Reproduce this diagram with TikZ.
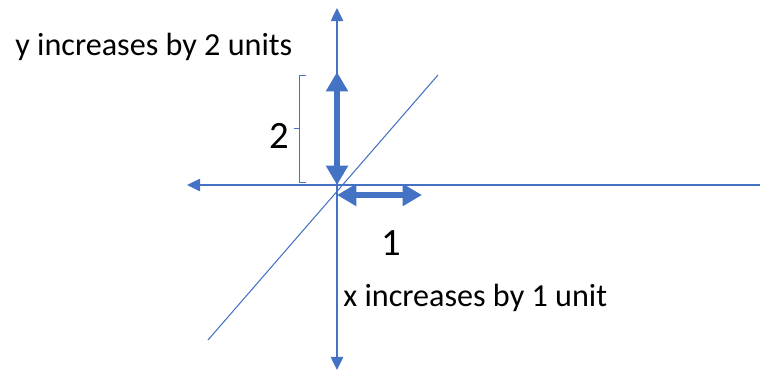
\documentclass[tikz,border=0pt]{standalone}
\usepackage{fontspec}
\setmainfont{Carlito}
\usepackage{tikz}
\usetikzlibrary{arrows.meta,positioning}
\definecolor{axisblue}{RGB}{68,114,196}
\tikzset{
    axisline/.style={axisblue, line width=1.2pt},
    axisarrow/.style={axisline, -{Triangle[width=7pt, length=7.5pt]}},
    slopeline/.style={axisblue, line width=0.6pt},
    steparrow/.style={axisblue, line width=3.4pt, {Triangle[width=12pt, length=11pt]}-{Triangle[width=12pt, length=11pt]}},
    bracketline/.style={axisblue, line width=0.5pt},
    notelabel/.style={font=\fontsize{18.3}{22}\selectfont, inner sep=0pt},
    countlabel/.style={font=\fontsize{22}{26}\selectfont, inner sep=0pt}
}
\begin{document}
\begin{tikzpicture}[x=0.02cm, y=-0.02cm]
        \useasboundingbox (0,0) rectangle (760,373);
        % axes
        \coordinate (origin) at (337,185);
        \coordinate (ytop) at (337,8);
        \coordinate (ybot) at (337,370);
        \coordinate (xleft) at (187,185);
        \coordinate (xright) at (760,185);
        \draw[axisarrow] (origin) -- (ytop);
        \draw[axisarrow] (origin) -- (ybot);
        \draw[axisarrow] (origin) -- (xleft);
        \draw[axisline] (origin) -- (xright);

        % line
        \coordinate (lineend1) at (208,340);
        \coordinate (lineend2) at (438,75);
        \draw[slopeline] (lineend1) -- (lineend2);

        % rise and run
        \coordinate (risetop) at (337,72);
        \coordinate (runstart) at (337,195);
        \coordinate (runend) at (422,195);
        \draw[steparrow] (origin) -- (risetop);
        \draw[steparrow] (runstart) -- (runend);

        % bracket
        \draw[bracketline] (306,75) -- (299,75) -- (299,182) -- (306,182);
        \draw[bracketline] (299,128) -- (294,128);

        \node[countlabel] (risenum) at (279,136) {2};
        \node[countlabel] (runnum) at (391,243) {1};
        \node[notelabel, anchor=west] (risetext) at (15,47) {y increases by 2 units};
        \node[notelabel, anchor=west] (runtext) at (343,298) {x increases by 1 unit};
    \end{tikzpicture}
\end{document}
